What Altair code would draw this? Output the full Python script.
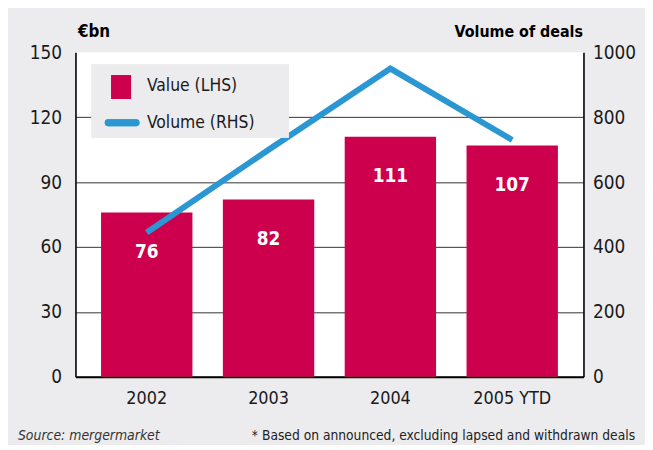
import altair as alt
import pandas as pd

years = ["2002", "2003", "2004", "2005 YTD"]
value_bn = [76, 82, 111, 107]
volume_deals = [445, 700, 950, 730]
left_ticks = [0, 30, 60, 90, 120, 150]
right_ticks = [0, 200, 400, 600, 800, 1000]
legend_labels = ["Value (LHS)", "Volume (RHS)"]

df = pd.DataFrame({"year": years, "value": value_bn, "volume": volume_deals})

FONT = "DejaVu Sans Condensed, Liberation Sans, sans-serif"
CRIMSON = "#cc004c"
BLUE = "#2a96d2"
BG = "#ececee"
INK = "#1a1a1a"

x_enc = alt.X(
    "year:N", sort=years,
    scale=alt.Scale(paddingInner=0.25, paddingOuter=0.21),
    axis=alt.Axis(title=None, labelAngle=0, labelFontSize=18, labelFont=FONT,
                  labelColor=INK, labelPadding=13, ticks=False, tickSize=0,
                  domainColor="black", domainWidth=2, grid=False),
)

bars = alt.Chart(df).mark_bar(color=CRIMSON).encode(
    x=x_enc,
    y=alt.Y("value:Q", scale=alt.Scale(domain=[0, 150], nice=False),
            axis=alt.Axis(title="€bn", values=left_ticks, ticks=False, tickSize=0,
                          labelFont=FONT, labelFontSize=19, labelColor=INK, labelPadding=14,
                          domainColor="black", domainWidth=1.6,
                          grid=True, gridColor="#333333", gridWidth=1,
                          gridOpacity={"condition": {"test": "datum.value >= 150", "value": 0}, "value": 1},
                          titleAngle=0, titleAlign="left", titleBaseline="alphabetic",
                          titleX=2, titleY=-16, titleFont=FONT, titleFontSize=17,
                          titleFontWeight="bold", titleColor="black")),
)

bar_text = alt.Chart(df).mark_text(color="white", font=FONT, fontSize=19, fontWeight="bold",
                                   baseline="middle", dy=40).encode(
    x=alt.X("year:N", sort=years),
    y=alt.Y("value:Q"),
    text=alt.Text("value:Q"),
)

line = alt.Chart(df).mark_line(color=BLUE, strokeWidth=6).encode(
    x=alt.X("year:N", sort=years),
    y=alt.Y("volume:Q", scale=alt.Scale(domain=[0, 1000], nice=False),
            axis=alt.Axis(orient="right", title="Volume of deals", values=right_ticks,
                          format="d", ticks=False, tickSize=0, grid=False,
                          labelFont=FONT, labelFontSize=19, labelColor=INK, labelPadding=9,
                          domainColor="black", domainWidth=1.6,
                          titleAngle=0, titleAlign="right", titleBaseline="alphabetic",
                          titleX=-1, titleY=-16, titleFont=FONT, titleFontSize=16,
                          titleFontWeight="bold", titleColor="black")),
)

one = alt.Chart(pd.DataFrame({"label": legend_labels}))
leg_box = one.mark_rect(color=BG).encode(
    x=alt.value(16), x2=alt.value(215), y=alt.value(12), y2=alt.value(86))
leg_sq = one.mark_rect(color=CRIMSON).encode(
    x=alt.value(36), x2=alt.value(56), y=alt.value(23), y2=alt.value(47))
leg_line = one.mark_rule(color=BLUE, strokeWidth=7, strokeCap="round").encode(
    x=alt.value(33), x2=alt.value(61), y=alt.value(71))
leg_t1 = alt.Chart(pd.DataFrame({"label": [legend_labels[0]]})).mark_text(
    font=FONT, fontSize=17.5, color=INK, align="left", baseline="middle").encode(
    x=alt.value(72), y=alt.value(34), text="label:N")
leg_t2 = alt.Chart(pd.DataFrame({"label": [legend_labels[1]]})).mark_text(
    font=FONT, fontSize=17.5, color=INK, align="left", baseline="middle").encode(
    x=alt.value(72), y=alt.value(71), text="label:N")

src = alt.Chart(pd.DataFrame({"t": ["Source: mergermarket"]})).mark_text(
    font=FONT, fontSize=14, fontStyle="italic", color="#333333", align="left",
    baseline="middle").encode(x=alt.value(-58), y=alt.value(387), text="t:N")
note = alt.Chart(pd.DataFrame({"t": ["* Based on announced, excluding lapsed and withdrawn deals"]})).mark_text(
    font=FONT, fontSize=13.8, color="#222222", align="right",
    baseline="middle").encode(x=alt.value(564), y=alt.value(387), text="t:N")

chart = alt.layer(
    alt.layer(bars, bar_text),
    line,
    leg_box, leg_sq, leg_line, leg_t1, leg_t2, src, note,
).resolve_scale(y="independent").properties(
    width=512, height=327,
    padding={"left": 68, "top": 43, "right": 62, "bottom": 67},
    autosize=alt.AutoSizeParams(type="none"),
    background=BG,
).configure_view(fill="white", stroke=None)

chart.save("out.html", embed_options={"renderer": "svg", "actions": False})
